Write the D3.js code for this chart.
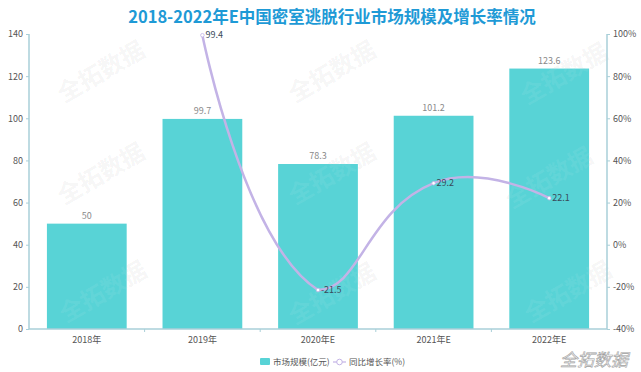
<!DOCTYPE html>
<html><head><meta charset="utf-8">
<script src="https://cdn.jsdelivr.net/npm/d3@7"></script>
<style>body{margin:0;background:#fff}svg{display:block}</style>
</head><body>
<svg id="c" width="641" height="372"></svg>
<script>
const categories = ["2018年","2019年","2020年E","2021年E","2022年E"];
const marketSize = [50, 99.7, 78.3, 101.2, 123.6];
const growthRate = [null, 99.4, -21.5, 29.2, 22.1];
const leftTicks = [0,20,40,60,80,100,120,140];
const rightTicks = [-40,-20,0,20,40,60,80,100];
const titleText = "2018-2022年E中国密室逃脱行业市场规模及增长率情况";
const seriesNames = ["市场规模(亿元)","同比增长率(%)"];
const watermark = "全拓数据";

const svg = d3.select("#c");
const font = "'Noto Sans CJK SC','Noto Sans',sans-serif";
const L = 29, R = 607, T = 34, B = 329;
const x = d3.scaleBand().domain(categories).range([L, R]);
const yL = d3.scaleLinear().domain([0,140]).range([B, T]);
const yR = d3.scaleLinear().domain([-40,100]).range([B, T]);
const axisColor = "#a9cfd8";
const wmPos = [[100,70],[331,70],[563,72],[100,172],[331,172],[548,176],[102,290],[331,292],[567,290]];

// watermarks
const wmG = svg.append("g");
wmPos.forEach(([cx,cy])=>{
  wmG.append("text").attr("transform",`translate(${cx},${cy}) rotate(-30)`)
    .attr("text-anchor","middle").attr("dominant-baseline","central")
    .attr("font-family",font).attr("font-weight","bold").attr("font-size",24)
    .attr("fill","rgba(0,0,0,0.055)").text(watermark);
});

// bars
const bw = x.bandwidth()*0.69;
svg.append("g").selectAll("rect").data(marketSize).join("rect")
  .attr("x",(d,i)=>x(categories[i])+(x.bandwidth()-bw)/2)
  .attr("y",d=>yL(d)).attr("width",bw).attr("height",d=>B-yL(d))
  .attr("fill","#58d3d6");
const wm2 = svg.append("g");
wmPos.forEach(([cx,cy])=>{
  wm2.append("text").attr("transform",`translate(${cx},${cy}) rotate(-30)`)
    .attr("text-anchor","middle").attr("dominant-baseline","central")
    .attr("font-family",font).attr("font-weight","bold").attr("font-size",24)
    .attr("fill","rgba(255,255,255,0.07)").text(watermark);
});
svg.append("g").selectAll("text").data(marketSize).join("text")
  .attr("x",(d,i)=>x(categories[i])+x.bandwidth()/2).attr("y",d=>yL(d)-5)
  .attr("text-anchor","middle").attr("font-family",font).attr("font-size",9)
  .attr("fill","#8a8a8a").text(d=>d);

// axes
const gl = svg.append("g").attr("transform",`translate(${L},0)`).call(d3.axisLeft(yL).tickValues(leftTicks).tickSize(3).tickPadding(3));
const gr = svg.append("g").attr("transform",`translate(${R},0)`).call(d3.axisRight(yR).tickValues(rightTicks).tickSize(3).tickPadding(3).tickFormat(d=>d+"%"));
const gx = svg.append("g").attr("transform",`translate(0,${B})`).call(d3.axisBottom(x).tickSize(0).tickPadding(8));
[gl,gr,gx].forEach(g=>{
  g.select(".domain").attr("stroke",axisColor).attr("stroke-width",1.5);
  g.selectAll(".tick line").attr("stroke",axisColor);
  g.selectAll("text").attr("font-family",font).attr("font-size",9).attr("fill","#555");
});
gl.select(".domain").attr("d",`M0,${T}V${B}`);
gr.select(".domain").attr("d",`M0,${T}V${B}`);
gx.select(".domain").attr("d",`M${L},0H${R}`);
svg.append("g").selectAll("line").data(categories.slice(1)).join("line")
  .attr("x1",d=>x(d)).attr("x2",d=>x(d)).attr("y1",B).attr("y2",B+3)
  .attr("stroke",axisColor);

// echarts-like smooth curve
function echartsCurve(context){
  const pts=[];
  return {
    areaStart(){}, areaEnd(){},
    lineStart(){pts.length=0;},
    point(px,py){pts.push([+px,+py]);},
    lineEnd(){
      if(!pts.length) return;
      const smooth=0.5;
      const minX=d3.min(pts,p=>p[0]),maxX=d3.max(pts,p=>p[0]);
      const minY=d3.min(pts,p=>p[1]),maxY=d3.max(pts,p=>p[1]);
      const clamp=(c)=>[Math.min(Math.max(c[0],minX),maxX),Math.min(Math.max(c[1],minY),maxY)];
      context.moveTo(pts[0][0],pts[0][1]);
      let cp1=pts[0].slice();
      for(let i=1;i<pts.length;i++){
        const p=pts[i],prev=pts[i-1],next=pts[i+1];
        let cp0, v=[0,0], ratio=0.5;
        if(!next){cp0=p.slice();}
        else{
          v=[next[0]-prev[0],next[1]-prev[1]];
          const lp=Math.hypot(p[0]-prev[0],p[1]-prev[1]);
          const ln=Math.hypot(next[0]-p[0],next[1]-p[1]);
          ratio=ln/(ln+lp);
          cp0=[p[0]-v[0]*smooth*(1-ratio),p[1]-v[1]*smooth*(1-ratio)];
        }
        cp0=clamp(cp0);
        context.bezierCurveTo(cp1[0],cp1[1],cp0[0],cp0[1],p[0],p[1]);
        cp1=clamp([p[0]+v[0]*smooth*ratio,p[1]+v[1]*smooth*ratio]);
      }
    }
  };
}
const lineData = categories.map((c,i)=>({c,v:growthRate[i]})).filter(d=>d.v!==null);
const lineColor="#c3b3e6";
svg.append("path").datum(lineData)
  .attr("d",d3.line().x(d=>x(d.c)+x.bandwidth()/2).y(d=>yR(d.v)).curve(echartsCurve))
  .attr("fill","none").attr("stroke",lineColor).attr("stroke-width",2.5);
svg.append("g").selectAll("circle").data(lineData).join("circle")
  .attr("cx",d=>x(d.c)+x.bandwidth()/2).attr("cy",d=>yR(d.v)).attr("r",1.8)
  .attr("fill","#fff").attr("stroke",lineColor).attr("stroke-width",0.8);
svg.append("g").selectAll("text").data(lineData).join("text")
  .attr("x",d=>x(d.c)+x.bandwidth()/2+3).attr("y",d=>yR(d.v)).attr("dy","0.35em")
  .attr("font-family",font).attr("font-size",9).attr("fill","#3a4a5a").text(d=>d.v);

// title
svg.append("text").attr("x",332).attr("y",23).attr("text-anchor","middle")
  .attr("font-family",font).attr("font-weight","bold").attr("font-size",16.5)
  .attr("fill","#1e9ad6").text(titleText);

// legend
const lg = svg.append("g");
lg.append("rect").attr("x",260).attr("y",358).attr("width",10).attr("height",7).attr("fill","#58d3d6").attr("rx",1);
lg.append("text").attr("x",273).attr("y",362).attr("dy","0.35em").attr("font-family",font).attr("font-size",8.5).attr("fill","#555").text(seriesNames[0]);
lg.append("line").attr("x1",333).attr("x2",346).attr("y1",362).attr("y2",362).attr("stroke",lineColor).attr("stroke-width",1.2);
lg.append("circle").attr("cx",339.5).attr("cy",362).attr("r",2.8).attr("fill","#fff").attr("stroke",lineColor).attr("stroke-width",1);
lg.append("text").attr("x",349).attr("y",362).attr("dy","0.35em").attr("font-family",font).attr("font-size",8.5).attr("fill","#555").text(seriesNames[1]);

// corner watermark
svg.append("text").attr("x",594).attr("y",366).attr("text-anchor","middle")
  .attr("font-family",font).attr("font-style","italic").attr("font-size",17)
  .attr("fill","#fff").attr("stroke","#a0a0a0").attr("stroke-width",0.6).text(watermark);
</script>
</body></html>
